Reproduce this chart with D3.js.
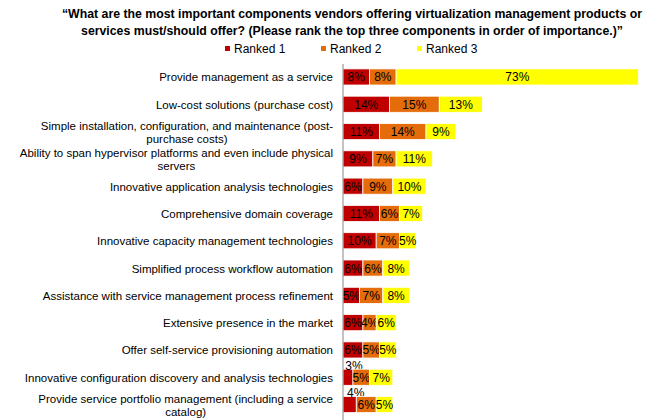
<!DOCTYPE html>
<meta charset="utf-8">
<head>
<style>
body { margin: 0; background: #fff; }
text { font-family: Arial, "Liberation Sans", sans-serif; fill: #000; }
.title { font-weight: bold; font-size: 12.3px; }
.cat { font-size: 11.5px; }
.val { font-size: 12px; }
.legend { font-size: 12px; }
</style>
</head>
<body>
<div id="chart"></div>
<script src="https://d3js.org/d3.v7.min.js"></script>
<script>

// categories (top to bottom), each is a list of label lines
var categories = [
  ["Provide management as a service"],
  ["Low-cost solutions (purchase cost)"],
  ["Simple installation, configuration, and maintenance (post-", "purchase costs)"],
  ["Ability to span hypervisor platforms and even include physical", "servers"],
  ["Innovative application analysis technologies"],
  ["Comprehensive domain coverage"],
  ["Innovative capacity management technologies"],
  ["Simplified process workflow automation"],
  ["Assistance with service management process refinement"],
  ["Extensive presence in the market"],
  ["Offer self-service provisioning automation"],
  ["Innovative configuration discovery and analysis technologies"],
  ["Provide service portfolio management (including a service", "catalog)"]
];

var seriesNames = ["Ranked 1", "Ranked 2", "Ranked 3"];
var seriesColors = ["#C00000", "#E46C0A", "#FFFF00"];

// percentages
var ranked1 = [8, 14, 11, 9, 6, 11, 10, 6, 5, 6, 6, 3, 4];
var ranked2 = [8, 15, 14, 7, 9, 6, 7, 6, 7, 4, 5, 5, 6];
var ranked3 = [73, 13, 9, 11, 10, 7, 5, 8, 8, 6, 5, 7, 5];

var titleLines = [
  "\u201cWhat are the most important components vendors offering virtualization management products or",
  "services must/should offer? (Please rank the top three components in order of importance.)\u201d"
];

var width = 663, height = 420;

var svg = d3.select("#chart").append("svg")
  .attr("width", width)
  .attr("height", height);

// title
svg.selectAll(".title")
  .data(titleLines)
  .enter().append("text")
  .attr("class", "title")
  .attr("x", 352)
  .attr("y", function(d, i) { return 18 + i * 17; })
  .attr("text-anchor", "middle")
  .text(function(d) { return d; });

// legend
var legendX = [225, 321, 417];
var legend = svg.selectAll(".legend")
  .data(seriesNames)
  .enter().append("g")
  .attr("class", "legend")
  .attr("transform", function(d, i) { return "translate(" + legendX[i] + ",0)"; });
legend.append("rect")
  .attr("y", 46)
  .attr("width", 5)
  .attr("height", 5)
  .style("fill", function(d, i) { return seriesColors[i]; });
legend.append("text")
  .attr("x", 9)
  .attr("y", 53)
  .text(function(d) { return d; });

// scales
var rows = d3.range(categories.length);
var y = d3.scaleBand()
  .domain(rows)
  .range([63.3, 418.2])
  .paddingInner(0.41)
  .paddingOuter(0.205);

var x = d3.scaleLinear()
  .domain([0, 100])
  .range([343, 675]);

var table = rows.map(function(i) {
  return { row: i, r1: ranked1[i], r2: ranked2[i], r3: ranked3[i] };
});
var stack = d3.stack().keys(["r1", "r2", "r3"])(table);

// bars
var layer = svg.selectAll(".layer")
  .data(stack)
  .enter().append("g")
  .attr("class", "layer")
  .style("fill", function(d, i) { return seriesColors[i]; });

layer.selectAll("rect")
  .data(function(d) { return d; })
  .enter().append("rect")
  .attr("x", function(d) { return x(d[0]); })
  .attr("y", function(d) { return y(d.data.row); })
  .attr("width", function(d) { return x(d[1]) - x(d[0]); })
  .attr("height", y.bandwidth())
  .style("stroke", "#fff")
  .style("stroke-width", 0.8);

// value labels; the tiniest first-rank segments get their label lifted above the bar
function lifted(d, k) { return k === 0 && (d[1] - d[0]) <= 4; }

layer.each(function(s, k) {
  d3.select(this).selectAll(".val")
    .data(s)
    .enter().append("text")
    .attr("class", "val")
    .attr("text-anchor", "middle")
    .attr("x", function(d) {
      var cx = (x(d[0]) + x(d[1])) / 2;
      return lifted(d, k) ? cx + 6 : cx;
    })
    .attr("y", function(d) {
      var cy = y(d.data.row) + y.bandwidth() / 2 + 4.5;
      return lifted(d, k) ? cy - 12 : cy;
    })
    .style("fill", "#000")
    .text(function(d) { return Math.round(d[1] - d[0]) + "%"; });
});

// category labels
var cat = svg.selectAll(".cat")
  .data(categories)
  .enter().append("text")
  .attr("class", "cat")
  .attr("text-anchor", "middle")
  .attr("transform", function(d, i) {
    var cy = y(i) + y.bandwidth() / 2;
    return "translate(0," + (cy + 4.5 - (d.length - 1) * 6.5) + ")";
  });
cat.each(function(d) {
  var t = d3.select(this);
  var w = 0;
  var spans = d.map(function(line, j) {
    return t.append("tspan").attr("x", 0).attr("dy", j === 0 ? 0 : 13).text(line);
  });
  spans.forEach(function(s) { w = Math.max(w, s.node().getComputedTextLength()); });
  spans.forEach(function(s) { s.attr("x", 333 - w / 2); });
});

// axis line
svg.append("line")
  .attr("x1", 343).attr("x2", 343)
  .attr("y1", 64).attr("y2", height)
  .style("stroke", "#868686")
  .style("stroke-width", 1);

</script>
</body>
